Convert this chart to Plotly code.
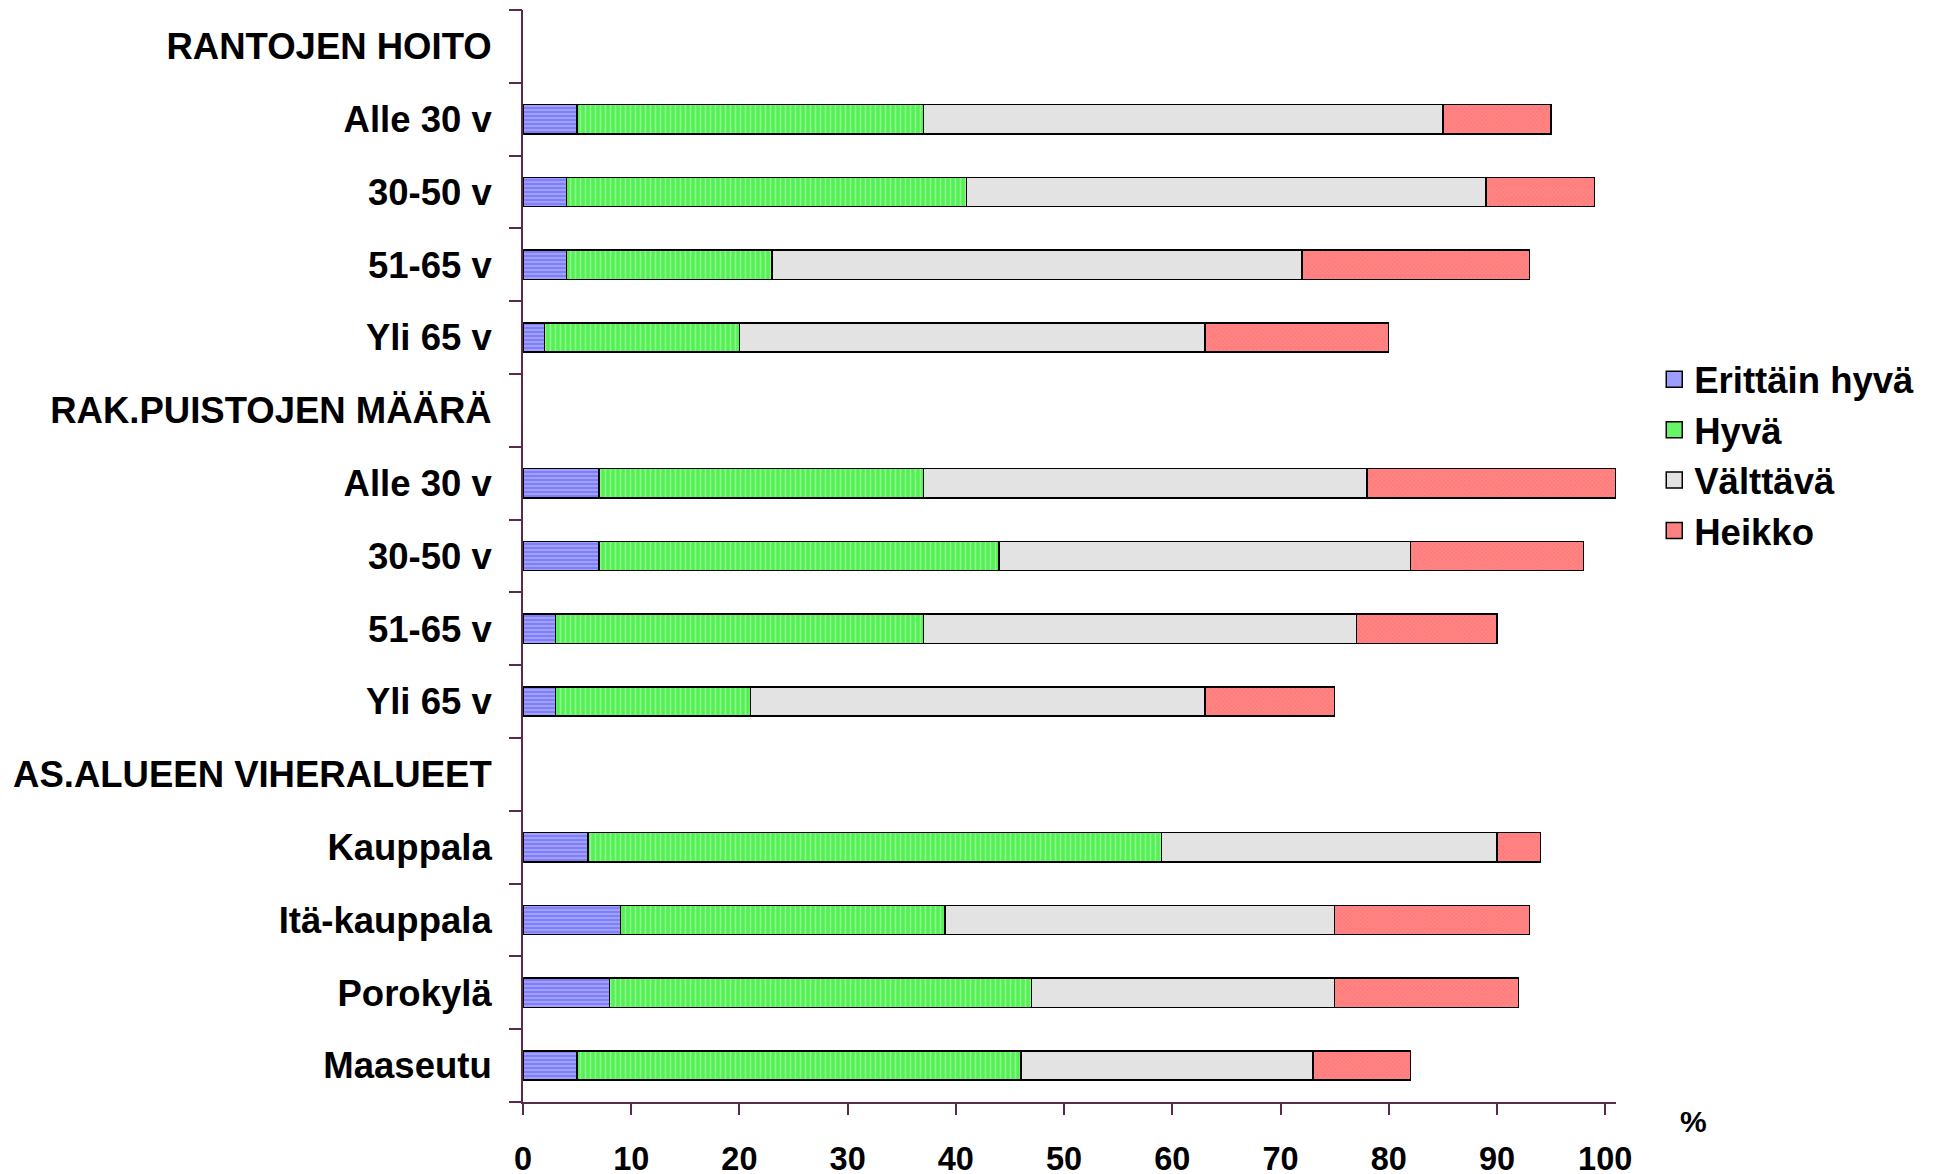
import plotly.graph_objects as go

categories = [
    "RANTOJEN HOITO", "Alle 30 v", "30-50 v", "51-65 v", "Yli 65 v",
    "RAK.PUISTOJEN MÄÄRÄ", "Alle 30 v", "30-50 v", "51-65 v", "Yli 65 v",
    "AS.ALUEEN VIHERALUEET", "Kauppala", "Itä-kauppala", "Porokylä", "Maaseutu",
]
erittain_hyva = [None, 5, 4, 4, 2, None, 7, 7, 3, 3, None, 6, 9, 8, 5]
hyva          = [None, 32, 37, 19, 18, None, 30, 37, 34, 18, None, 53, 30, 39, 41]
valttava      = [None, 48, 48, 49, 43, None, 41, 38, 40, 42, None, 31, 36, 28, 27]
heikko        = [None, 10, 10, 21, 17, None, 23, 16, 13, 12, None, 4, 18, 17, 9]
x_ticks = [0, 10, 20, 30, 40, 50, 60, 70, 80, 90, 100]

FONT = "Liberation Sans, Arial, sans-serif"
AXC = "#5a2a4a"
pos = list(range(len(categories)))

series = [
    ("Erittäin hyvä", erittain_hyva, "#9d9dff", dict(shape="-", bgcolor="#a0a0ff", fgcolor="#5555ee", size=4, solidity=0.45)),
    ("Hyvä", hyva, "#66f566", dict(shape="|", bgcolor="#55f055", fgcolor="#c8ffc8", size=5, solidity=0.3)),
    ("Välttävä", valttava, "#e3e3e3", None),
    ("Heikko", heikko, "#ff8080", dict(shape="x", bgcolor="#ff8585", fgcolor="#ff5a5a", size=3, solidity=0.3)),
]

fig = go.Figure()
for name, vals, swatch, pat in series:
    marker = dict(line=dict(color="black", width=1.5))
    if pat is None:
        marker["color"] = swatch
    else:
        marker["color"] = pat["bgcolor"]
        marker["pattern"] = pat
    fig.add_trace(go.Bar(
        name=name, x=vals, y=pos, orientation="h", marker=marker,
        legendgroup=name, showlegend=False,
    ))
    # legend entry with a larger square swatch
    fig.add_trace(go.Scatter(
        name=name, x=[None], y=[None], mode="markers", legendgroup=name,
        marker=dict(symbol="square", size=22, color=swatch,
                    line=dict(color="black", width=1.5)),
        hoverinfo="skip",
    ))

# boundary tick marks on an overlaid axis
fig.add_trace(go.Scatter(x=[None], y=[None], yaxis="y2", showlegend=False, hoverinfo="skip"))

fig.update_layout(
    width=1937, height=1174,
    barmode="stack", bargap=0.6,
    plot_bgcolor="white", paper_bgcolor="white",
    margin=dict(l=515, r=329, t=2, b=80, autoexpand=False),
    font=dict(family=FONT, size=36, color="black", weight="bold"),
    xaxis=dict(
        range=[0, 101], tickvals=x_ticks, ticktext=[str(v) for v in x_ticks],
        showgrid=False, zeroline=False, showline=True, linecolor=AXC, linewidth=2,
        ticks="outside", ticklen=11, tickcolor=AXC, tickwidth=1.5,
        ticklabelstandoff=16, automargin=False,
        tickfont=dict(family=FONT, size=32.5, color="black", weight="bold"),
    ),
    yaxis=dict(
        range=[len(categories) - 0.5, -0.5],
        tickvals=pos, ticktext=categories,
        showgrid=False, zeroline=False, showline=True, linecolor=AXC, linewidth=2,
        ticks="", ticklabelstandoff=22, automargin=False,
        tickfont=dict(family=FONT, size=36.5, color="black", weight="bold"),
    ),
    yaxis2=dict(
        overlaying="y", side="left", matches="y",
        range=[len(categories) - 0.5, -0.5],
        tickvals=[p - 0.5 for p in pos] + [pos[-1] + 0.5],
        showticklabels=False, showgrid=False, zeroline=False, showline=False,
        ticks="outside", ticklen=13, tickcolor=AXC, tickwidth=1.5, automargin=False,
    ),
    legend=dict(
        x=1.035, y=0.5925, xanchor="left", yanchor="middle",
        font=dict(family=FONT, size=36.5, color="black", weight="bold"),
        bgcolor="rgba(0,0,0,0)", traceorder="normal",
    ),
    annotations=[dict(
        text="%", x=1.0705, y=-0.0183, xref="paper", yref="paper",
        xanchor="center", yanchor="middle", showarrow=False,
        font=dict(family=FONT, size=30, color="black", weight="bold"),
    )],
)

fig.write_html("out.html")
